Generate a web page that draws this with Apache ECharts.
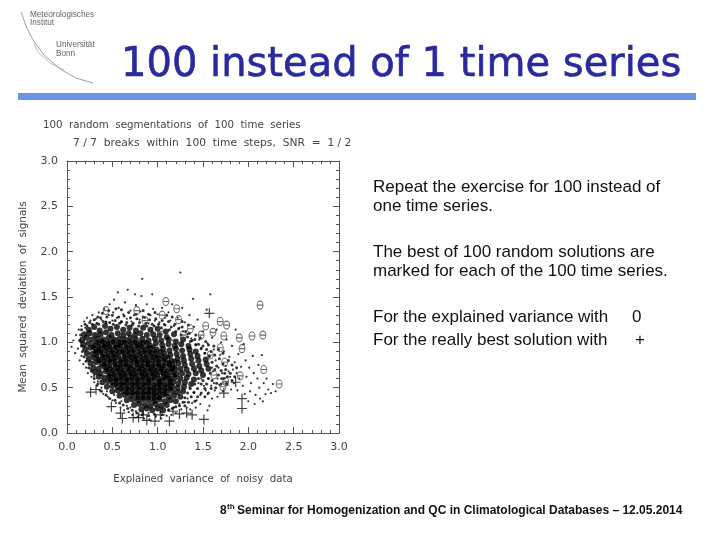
<!DOCTYPE html>
<html>
<head>
<meta charset="utf-8">
<title>100 instead of 1 time series</title>
<style>html,body{margin:0;padding:0;background:#fff}#main{width:720px;height:540px}</style>
<script src="https://cdn.jsdelivr.net/npm/echarts@6/dist/echarts.min.js"></script>
</head>
<body>
<div id="main"></div>
<script>
// values

// best explained variance of each series
var bestVariance = [[1.09,1.45],[1.21,1.37],[2.13,1.41],[1.23,1.25],[1.53,1.18],[1.69,1.23],[1.76,1.19],
  [1.36,1.15],[1.61,1.11],[1.48,1.08],[1.73,1.07],[1.90,1.05],[2.04,1.07],[2.16,1.08],[1.69,0.94],[1.93,0.93],
  [1.74,0.78],[2.17,0.70],[1.91,0.63],[2.34,0.54],[1.72,0.51],[1.28,1.08],[0.77,1.35],[0.43,1.35],[1.03,1.12],
  [0.86,1.24],[1.15,0.98],[1.58,0.86],[1.62,0.64],[1.41,0.78],[1.75,0.57],[1.05,1.30]];

// really best solution of each series
var bestSolution = [[0.26,0.45],[0.32,0.48],[0.49,0.29],[0.59,0.22],[0.61,0.16],[0.73,0.17],[0.79,0.17],[0.84,0.20],
  [0.88,0.14],[0.97,0.13],[1.03,0.20],[1.13,0.13],[1.17,0.24],[1.24,0.21],[1.32,0.22],[1.38,0.20],[1.51,0.15],
  [1.93,0.27],[1.93,0.38],[1.73,0.44],[1.86,0.56],[1.57,1.32]];

// dense middle of the cloud
var cloudCore = [
  [.24,1.14],[.3,1.17],[.36,1.13],[.42,1.18],[.48,1.15],[.55,1.17],[.62,1.14],[.69,1.16],[.76,1.13],[.84,1.16],[.92,1.14],[1.0,1.15],[1.09,1.12],
  [.19,1.09],[.25,1.1],[.31,1.08],[.37,1.09],[.43,1.11],[.49,1.08],[.56,1.1],[.62,1.08],[.68,1.1],[.75,1.08],[.81,1.1],[.88,1.08],[.95,1.09],[1.02,1.08],[1.1,1.06],[1.18,1.09],
  [.17,1.03],[.22,1.05],[.28,1.03],[.34,1.04],[.4,1.03],[.46,1.05],[.52,1.03],[.58,1.04],[.64,1.03],[.7,1.05],[.76,1.03],[.83,1.04],[.9,1.02],[.97,1.04],[1.04,1.02],[1.12,1.03],[1.2,1.01],[1.28,1.03],
  [.18,.98],[.24,.99],[.3,.97],[.36,.99],[.42,.98],[.48,.99],[.54,.97],[.6,.99],[.66,.98],[.72,.99],[.78,.97],[.84,.99],[.91,.97],[.98,.99],[1.05,.97],[1.12,.98],[1.19,.96],[1.26,.98],[1.34,.96],
  [.2,.93],[.26,.94],[.32,.92],[.38,.93],[.44,.94],[.5,.92],[.56,.94],[.62,.92],[.68,.93],[.74,.92],[.8,.94],[.86,.92],[.92,.93],[.99,.92],[1.06,.93],[1.13,.91],[1.2,.93],[1.27,.91],[1.35,.92],[1.42,.9],
  [.22,.88],[.28,.87],[.34,.89],[.4,.87],[.46,.88],[.52,.87],[.58,.89],[.64,.87],[.7,.88],[.76,.86],[.82,.88],[.88,.87],[.94,.88],[1.0,.86],[1.07,.88],[1.14,.86],[1.21,.87],[1.28,.85],[1.36,.87],[1.44,.85],
  [.24,.82],[.3,.83],[.36,.81],[.42,.83],[.48,.82],[.54,.83],[.6,.81],[.66,.82],[.72,.83],[.78,.81],[.84,.82],[.9,.81],[.96,.83],[1.02,.81],[1.08,.82],[1.15,.8],[1.22,.82],[1.29,.8],[1.37,.82],[1.45,.8],[1.53,.81],
  [.26,.77],[.32,.78],[.38,.76],[.44,.77],[.5,.78],[.56,.76],[.62,.77],[.68,.76],[.74,.78],[.8,.76],[.86,.77],[.92,.76],[.98,.77],[1.04,.75],[1.1,.77],[1.16,.75],[1.23,.77],[1.3,.75],[1.38,.76],[1.46,.74],[1.54,.76],
  [.29,.72],[.35,.71],[.41,.73],[.47,.71],[.53,.72],[.59,.71],[.65,.73],[.71,.71],[.77,.72],[.83,.71],[.89,.72],[.95,.71],[1.01,.72],[1.07,.7],[1.13,.72],[1.19,.7],[1.25,.71],[1.32,.7],[1.4,.71],[1.48,.69],[1.56,.71],
  [.31,.67],[.37,.66],[.43,.68],[.49,.66],[.55,.67],[.61,.66],[.67,.67],[.73,.66],[.79,.67],[.85,.66],[.91,.67],[.97,.66],[1.03,.67],[1.09,.65],[1.15,.67],[1.21,.65],[1.27,.66],[1.34,.65],[1.42,.66],[1.5,.64],
  [.35,.62],[.41,.61],[.47,.62],[.53,.61],[.59,.62],[.65,.61],[.71,.62],[.77,.61],[.83,.62],[.89,.61],[.95,.62],[1.01,.6],[1.07,.62],[1.13,.6],[1.19,.61],[1.25,.6],[1.32,.61],[1.4,.59],
  [.39,.56],[.45,.57],[.51,.56],[.57,.57],[.63,.56],[.69,.57],[.75,.56],[.81,.57],[.87,.56],[.93,.57],[.99,.55],[1.05,.57],[1.11,.55],[1.17,.56],[1.23,.55],[1.3,.56],[1.37,.54],
  [.44,.51],[.5,.52],[.56,.51],[.62,.52],[.68,.51],[.74,.52],[.8,.51],[.86,.52],[.92,.51],[.98,.5],[1.04,.52],[1.1,.5],[1.16,.51],[1.22,.5],[1.29,.51],
  [.5,.46],[.56,.47],[.62,.46],[.68,.47],[.74,.46],[.8,.47],[.86,.46],[.92,.47],[.98,.45],[1.04,.47],[1.1,.45],[1.16,.46],[1.22,.45],[1.28,.46],
  [.58,.41],[.64,.42],[.7,.41],[.76,.42],[.82,.41],[.88,.42],[.94,.41],[1.0,.4],[1.06,.42],[1.12,.4],[1.18,.41],[1.25,.4],
  [.66,.36],[.72,.37],[.78,.36],[.84,.37],[.9,.36],[.96,.35],[1.02,.37],[1.08,.35],[1.14,.36],[1.2,.35],
  [.74,.31],[.8,.32],[.86,.31],[.92,.3],[.98,.32],[1.04,.3],[1.1,.31],
  [.82,.26],[.88,.27],[.94,.25],[1.0,.27],[1.06,.25]
];

// medium dots, upper band and right flank of the cloud
var cloudMid = [
  [.2,1.2],[.25,1.22],[.3,1.25],[.33,1.21],[.37,1.27],[.4,1.23],[.44,1.28],[.47,1.22],[.5,1.3],[.53,1.24],[.57,1.28],[.6,1.23],[.63,1.29],[.66,1.22],[.7,1.27],[.73,1.21],[.77,1.26],[.8,1.22],[.84,1.28],[.87,1.21],[.91,1.25],[.94,1.2],[.98,1.26],[1.01,1.2],[1.05,1.24],[1.08,1.19],[1.12,1.23],[1.15,1.17],[1.19,1.2],[1.23,1.15],[1.27,1.17],[1.31,1.12],
  [.16,1.14],[.22,1.18],[.28,1.2],[.35,1.2],[.43,1.22],[.51,1.2],[.58,1.21],[.65,1.19],[.72,1.19],[.79,1.18],[.88,1.18],[.96,1.18],[1.04,1.16],[1.13,1.14],[1.2,1.12],[1.26,1.08],[1.33,1.06],[1.38,1.02],[1.42,.97],[1.48,.93],[1.52,.88],[1.57,.85],
  [1.36,1.01],[1.41,1.03],[1.45,.98],[1.5,.96],[1.54,.92],[1.59,.9],[1.63,.86],[1.68,.82],[1.72,.76],[1.6,.78],[1.65,.74],[1.7,.69],[1.75,.7],[1.8,.66],[1.85,.62],[1.58,.66],[1.63,.7],[1.67,.64],[1.72,.6],[1.77,.62],[1.82,.58],[1.56,.6],[1.6,.58],[1.65,.55],[1.7,.54],[1.76,.55],[1.5,.58],[1.54,.54],[1.59,.49],[1.64,.5],[1.45,.6],[1.48,.54],[1.52,.49],[1.56,.44],[1.41,.54],[1.44,.49],[1.48,.44],[1.52,.4],[1.36,.49],[1.4,.45],[1.44,.4],[1.33,.44],[1.37,.4],[1.41,.35],[1.3,.39],[1.34,.34],[1.28,.34],[1.24,.3],[1.2,.29],[1.16,.27],[1.12,.25],[1.3,.3],
  [.16,.96],[.14,1.02],[.15,1.08],[.17,.9],[.19,.84],[.21,.79],[.24,.72],[.27,.68],[.3,.6],[.34,.54],[.38,.46],[.43,.42],[.47,.38],[.53,.36],[.58,.33],[.62,.31],[.67,.27],[.72,.25],[.77,.22],[.83,.2],[.9,.19],[.97,.2],[1.05,.2],
  [1.62,.96],[1.67,.92],[1.72,.88],[1.78,.8],[1.82,.75],[1.87,.72],[1.74,.66],[1.47,1.05],[1.53,1.01],[1.56,.97],[1.35,1.1],[1.42,1.08],[1.27,1.23],[1.34,1.19],[1.16,1.28],[1.1,1.3],[.97,1.33],[.9,1.31],[.84,1.35],[.76,1.31],[.68,1.33],[.6,1.36],[.54,1.37],[.46,1.35],[.39,1.32],[.34,1.28]
];

// extra dots closing the gaps in the blackest part
var cloudInner = [
  [.33,1.0],[.39,1.01],[.45,1.0],[.51,1.01],[.57,1.0],[.63,1.0],[.69,1.01],[.75,1.0],[.81,1.0],[.87,1.0],[.29,.95],[.35,.95],[.41,.96],[.47,.95],[.53,.95],[.59,.96],[.65,.95],[.71,.95],[.77,.96],[.83,.95],[.89,.95],[.95,.95],
  [.31,.9],[.37,.9],[.43,.91],[.49,.9],[.55,.9],[.61,.9],[.67,.9],[.73,.9],[.79,.9],[.85,.9],[.91,.9],[.97,.9],[1.03,.9],[.33,.85],[.39,.85],[.45,.85],[.51,.85],[.57,.85],[.63,.85],[.69,.85],[.75,.84],[.81,.85],[.87,.84],[.93,.85],[.99,.84],[1.05,.85],[1.11,.84],
  [.35,.8],[.41,.8],[.47,.8],[.53,.8],[.59,.79],[.65,.8],[.71,.8],[.77,.79],[.83,.8],[.89,.79],[.95,.8],[1.01,.79],[1.07,.8],[1.13,.78],[1.19,.79],[.41,.75],[.47,.74],[.53,.75],[.59,.74],[.65,.75],[.71,.74],[.77,.75],[.83,.74],[.89,.75],[.95,.74],[1.01,.75],[1.07,.74],[1.13,.75],[1.19,.73],
  [.44,.7],[.5,.69],[.56,.7],[.62,.69],[.68,.7],[.74,.69],[.8,.7],[.86,.69],[.92,.7],[.98,.69],[1.04,.7],[1.1,.68],[1.16,.7],[.46,.64],[.52,.64],[.58,.65],[.64,.64],[.7,.65],[.76,.64],[.82,.65],[.88,.64],[.94,.65],[1.0,.64],[1.06,.65],[1.12,.63],[1.18,.64],
  [.48,.59],[.54,.59],[.6,.6],[.66,.59],[.72,.6],[.78,.59],[.84,.6],[.9,.59],[.96,.6],[1.02,.58],[1.08,.6],[1.14,.58],[.54,.54],[.6,.54],[.66,.55],[.72,.54],[.78,.55],[.84,.54],[.9,.55],[.96,.53],[1.02,.54],[1.08,.53],[1.14,.54],
  [.6,.49],[.66,.49],[.72,.49],[.78,.5],[.84,.49],[.9,.49],[.96,.48],[1.02,.49],[1.08,.48],[1.14,.49],[.66,.44],[.72,.44],[.78,.44],[.84,.44],[.9,.44],[.96,.43],[1.02,.44],[1.08,.43],[.78,.39],[.84,.39],[.9,.39],[.96,.38],[1.02,.39]
];

// thin scatter round the cloud
var cloudRim = [
  [.05,.95],[.07,1.02],[.09,.88],[.1,1.08],[.12,.93],[.13,1.14],[.14,.8],[.16,.85],[.16,1.18],[.18,.76],[.19,1.23],[.21,.72],[.22,1.27],[.23,.66],[.26,1.24],[.27,.62],[.28,1.3],[.3,.56],
  [.32,1.26],[.33,.52],[.35,1.33],[.36,.47],[.38,1.25],[.4,.43],[.41,1.37],[.43,1.23],[.45,.4],[.46,1.3],[.47,1.42],[.5,.36],[.5,1.24],[.51,1.33],[.52,1.47],[.54,.33],[.55,1.27],[.56,1.55],[.57,1.38],
  [.59,.28],[.6,1.22],[.62,1.31],[.63,.25],[.64,1.44],[.66,1.26],[.67,1.58],[.68,.23],[.7,1.35],[.71,1.23],[.72,.2],[.74,1.3],[.75,1.53],[.76,1.41],[.78,.18],[.8,1.25],[.81,1.34],[.82,1.51],[.83,1.7],
  [.85,.16],[.86,1.27],[.88,1.42],[.9,1.21],[.91,.15],[.92,1.3],[.94,1.53],[.95,1.37],[.97,1.24],[.98,.18],[1.0,1.31],[1.02,1.22],[1.04,.16],[1.05,1.38],[1.07,1.2],[1.08,1.27],[1.1,.19],[1.12,1.33],
  [1.14,1.24],[1.15,.2],[1.16,1.42],[1.18,1.18],[1.2,.22],[1.22,1.27],[1.24,1.16],[1.25,1.77],[1.26,.26],[1.27,1.38],[1.28,1.12],[1.3,1.22],[1.32,.28],[1.33,1.09],[1.35,1.3],[1.37,1.04],[1.38,.33],[1.39,1.48],
  [1.4,1.17],[1.42,.98],[1.43,.36],[1.44,1.25],[1.46,1.03],[1.47,.42],[1.48,.94],[1.5,1.12],[1.51,.52],[1.52,.88],[1.53,.47],[1.54,1.36],[1.55,.99],[1.56,.6],[1.57,.84],[1.58,1.53],[1.59,.52],[1.6,1.05],[1.61,.68],
  [1.62,.92],[1.63,.47],[1.64,.8],[1.65,1.14],[1.66,.6],[1.67,.72],[1.68,.53],[1.69,.86],[1.7,1.0],[1.71,.66],[1.72,.46],[1.73,.9],[1.74,.6],[1.75,.74],[1.76,1.03],[1.77,.53],[1.78,.68],[1.79,.84],[1.8,.62],
  [1.81,.48],[1.82,.96],[1.83,.7],[1.84,.55],[1.85,.78],[1.86,1.14],[1.87,.66],[1.88,.47],[1.89,.87],[1.9,.6],[1.92,.73],[1.94,.52],[1.95,.98],[1.96,.43],[1.97,.8],[1.98,.62],[2.0,.35],[2.01,.72],[2.02,.46],
  [2.03,.55],[2.05,.85],[2.06,.66],[2.07,.32],[2.08,.42],[2.1,.6],[2.11,.75],[2.12,.5],[2.13,.38],[2.15,.86],[2.16,.35],[2.17,.55],[2.19,.43],[2.2,.6],[2.22,.48],[2.25,.44],[2.27,.54],[2.3,.46],
  [1.36,.26],[1.42,.28],[1.55,.25],[1.57,.3],[1.47,.32],[1.6,.38],[1.66,.4],[1.33,.38],[1.4,.44],[1.45,.55],[1.35,.5],[1.48,.6],[1.6,.72],[1.55,.43],[1.62,.55],[1.7,.6],
  [.15,1.0],[.2,1.16],[.26,.7],[.3,.63],[.34,.57],[.38,.5],[.44,.46],[.52,.42],[.6,.35],[.66,.3],[.7,.28],[.76,.24],[.84,.22],[.9,.22],[.96,.21],[1.03,.23],[1.12,.26],[1.18,.28],[1.24,.32],[1.3,.34]
];

var myChart = echarts.init(document.getElementById('main'), null, {renderer: 'canvas'});

var axisColor = '#555';
var textColor = '#444';
var plotFont = '"DejaVu Sans"';

function plotAxis(pos, idx) {
  return {
    type: 'value',
    position: pos,
    min: 0,
    max: 3,
    interval: 0.5,
    axisLine: {show: true, onZero: false, lineStyle: {color: axisColor, width: 1}},
    axisTick: {show: true, inside: true, length: 6, lineStyle: {color: axisColor}},
    minorTick: {show: true, splitNumber: 5, length: 3, lineStyle: {color: axisColor}},
    splitLine: {show: false},
    minorSplitLine: {show: false},
    axisLabel: {show: idx === 0, color: textColor, fontFamily: plotFont, fontSize: 11, margin: 9,
      formatter: function (v) { return v.toFixed(1); }}
  };
}

function slideText(x, y, str, size, extra) {
  return {
    type: 'text',
    x: x,
    y: y,
    style: Object.assign({
      text: str,
      fontFamily: '"Liberation Sans"',
      fontSize: size,
      fill: '#111',
      textVerticalAlign: 'middle'
    }, extra || {})
  };
}

var xTop = plotAxis('top', 1);
var yRight = plotAxis('right', 1);
var xMain = plotAxis('bottom', 0);
var yMain = plotAxis('left', 0);
xMain.name = 'Explained  variance  of  noisy  data';
xMain.nameLocation = 'middle';
xMain.nameGap = 41;
xMain.nameTextStyle = {color: textColor, fontFamily: plotFont, fontSize: 10.2};
yMain.name = 'Mean  squared  deviation  of  signals';
yMain.nameLocation = 'middle';
yMain.nameGap = 39;
yMain.nameTextStyle = {color: textColor, fontFamily: plotFont, fontSize: 10.4};

myChart.setOption({
  animation: false,
  backgroundColor: '#fff',
  grid: {left: 67, top: 161, width: 272, height: 272, containLabel: false},
  xAxis: [xMain, xTop],
  yAxis: [yMain, yRight],
  graphic: [
    // slide header
    slideText(121, 66, '100 instead of 1 time series', 40, {fontFamily: '"DejaVu Sans"', fill: '#2a2a9e', stroke: '#2a2a9e', lineWidth: 0.6}),
    {type: 'rect', shape: {x: 18, y: 93, width: 678, height: 7}, style: {fill: '#6a96e8'}},
    // logo
    slideText(30, 15, 'Meteorologisches', 8.2, {fill: '#666'}),
    slideText(30, 23, 'Institut', 8.2, {fill: '#666'}),
    slideText(56, 45, 'Universität', 8.2, {fill: '#666'}),
    slideText(56, 54, 'Bonn', 8.2, {fill: '#666'}),
    {type: 'polyline', shape: {points: [[21,12],[26,26],[33,40],[44,55],[60,69],[76,78],[93,83]]}, style: {stroke: '#888', fill: null, lineWidth: 0.8}},
    {type: 'polyline', shape: {points: [[34,44],[38,52],[50,63],[64,70]]}, style: {stroke: '#aaa', fill: null, lineWidth: 0.8}},
    // plot titles
    slideText(43, 125, '100  random  segmentations  of  100  time  series', 10.25, {fontFamily: plotFont, fill: textColor}),
    slideText(73, 143, '7 / 7  breaks  within  100  time  steps,  SNR  =  1 / 2', 10.7, {fontFamily: plotFont, fill: textColor}),
    // right hand text
    slideText(373, 187, 'Repeat the exercise for 100 instead of', 17),
    slideText(373, 206, 'one time series.', 17),
    slideText(373, 252, 'The best of 100 random solutions are', 17),
    slideText(373, 271, 'marked for each of the 100 time series.', 17),
    slideText(373, 317, 'For the explained variance with', 17),
    slideText(632, 317, '0', 17),
    slideText(373, 340, 'For the really best solution with', 17),
    slideText(635, 340, '+', 17),
    // footer
    slideText(220, 511, '8', 12, {fontWeight: 'bold'}),
    slideText(227, 507, 'th', 8, {fontWeight: 'bold'}),
    slideText(237, 511, 'Seminar for Homogenization and QC in Climatological Databases – 12.05.2014', 12, {fontWeight: 'bold'})
  ],
  series: [
    {name: 'core', type: 'scatter', data: cloudCore, symbolSize: 6, itemStyle: {color: '#000'}, silent: true},
    {name: 'inner', type: 'scatter', data: cloudInner, symbolSize: 5, itemStyle: {color: '#000'}, silent: true},
    {name: 'mid', type: 'scatter', data: cloudMid, symbolSize: 3, itemStyle: {color: '#000'}, silent: true},
    {name: 'rim', type: 'scatter', data: cloudRim, symbolSize: 2.2, itemStyle: {color: '#000'}, silent: true},
    {name: 'best variance', type: 'scatter', data: bestVariance,
      symbol: 'path://M0,-6A4,6 0 1,0 0,6A4,6 0 1,0 0,-6ZM-4,0L4,0', symbolSize: [6, 8],
      itemStyle: {color: 'rgba(0,0,0,0)', borderColor: '#444', borderWidth: 1}, silent: true},
    {name: 'best solution', type: 'scatter', data: bestSolution,
      symbol: 'path://M-5,0L5,0M0,-5L0,5', symbolSize: 10,
      itemStyle: {color: 'rgba(0,0,0,0)', borderColor: '#111', borderWidth: 1.2}, silent: true}
  ]
});
</script>
</body>
</html>
